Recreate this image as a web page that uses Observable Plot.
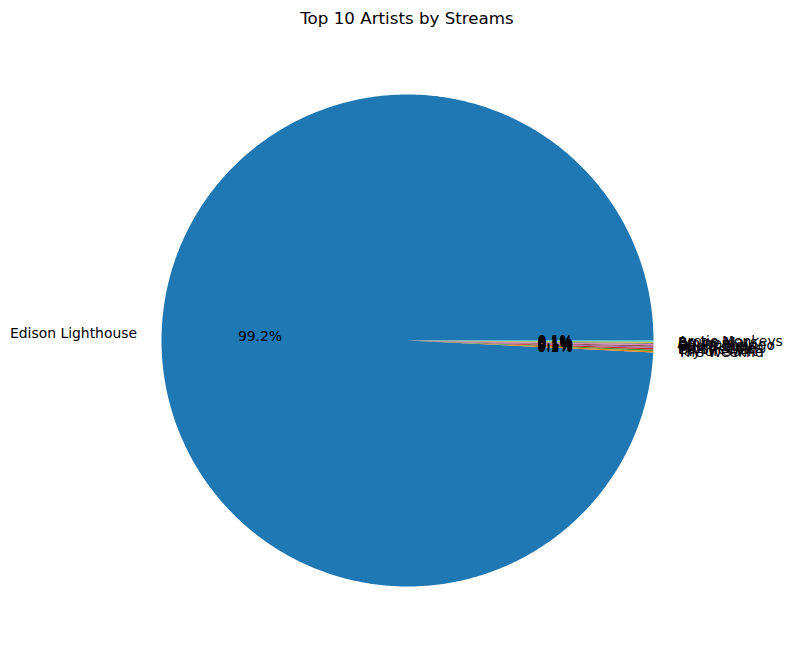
<!DOCTYPE html>
<html>
<head>
<meta charset="utf-8">
<script src="https://cdn.jsdelivr.net/npm/d3@7"></script>
<script src="https://cdn.jsdelivr.net/npm/@observablehq/plot@0.6"></script>
<style>
  body { margin: 0; background: #fff; }
  #title { position: relative; height: 36px; width: 793px; font: 16.7px "DejaVu Sans", sans-serif; color: #000; }
  #title span { position: absolute; left: 407px; top: 18px; transform: translate(-50%, -50%); white-space: nowrap; }
</style>
</head>
<body>
<div id="title"><span>Top 10 Artists by Streams</span></div>
<div id="chart"></div>
<script>
const artists = ["Edison Lighthouse", "The Weeknd", "Taylor Swift", "Ed Sheeran", "Harry Styles", "Bad Bunny", "Olivia Rodrigo", "Eminem", "Bruno Mars", "Arctic Monkeys"];
const streams = [99.2, 0.10, 0.10, 0.09, 0.09, 0.09, 0.08, 0.08, 0.08, 0.07];
const colors = d3.schemeCategory10;

const total = d3.sum(streams);
const slices = [];
let acc = 0;
artists.forEach((a, i) => {
  const a0 = acc / total * 2 * Math.PI;
  acc += streams[i];
  const a1 = acc / total * 2 * Math.PI;
  slices.push({artist: a, a0, a1, pct: streams[i] / total * 100});
});

const pts = [];
for (const s of slices) {
  const n = Math.max(2, Math.ceil((s.a1 - s.a0) / (Math.PI / 360)));
  pts.push({artist: s.artist, x: 0, y: 0});
  for (let k = 0; k <= n; k++) {
    const t = s.a0 + (s.a1 - s.a0) * k / n;
    pts.push({artist: s.artist, x: Math.cos(t), y: Math.sin(t)});
  }
  pts.push({artist: s.artist, x: 0, y: 0});
}

const labels = slices.map(s => {
  const m = (s.a0 + s.a1) / 2;
  return {artist: s.artist, x: 1.1 * Math.cos(m), y: 1.1 * Math.sin(m),
          px: 0.6 * Math.cos(m), py: 0.6 * Math.sin(m),
          pct: s.pct.toFixed(1) + "%", right: Math.cos(m) >= 0};
});

const cx = 407, cy = 304, R = 246;
const chart = Plot.plot({
  width: 793,
  height: 622,
  margin: 0,
  x: {domain: [-1, 1], range: [cx - R, cx + R], axis: null},
  y: {domain: [-1, 1], range: [cy + R, cy - R], axis: null},
  color: {domain: artists, range: colors},
  style: {fontFamily: "DejaVu Sans, sans-serif", fontSize: "13.9px", background: "#fff"},
  marks: [
    Plot.line(pts, {x: "x", y: "y", z: "artist", fill: "artist", stroke: "none", curve: "linear"}),
    Plot.text(labels.filter(d => d.right), {x: "x", y: "y", text: "artist", textAnchor: "start", fill: "#000", fontSize: 13.9}),
    Plot.text(labels.filter(d => !d.right), {x: "x", y: "y", text: "artist", textAnchor: "end", fill: "#000", fontSize: 13.9}),
    Plot.text(labels, {x: "px", y: "py", text: "pct", textAnchor: "middle", fill: "#000", fontSize: 13.9})
  ]
});
document.getElementById("chart").appendChild(chart);
</script>
</body>
</html>
